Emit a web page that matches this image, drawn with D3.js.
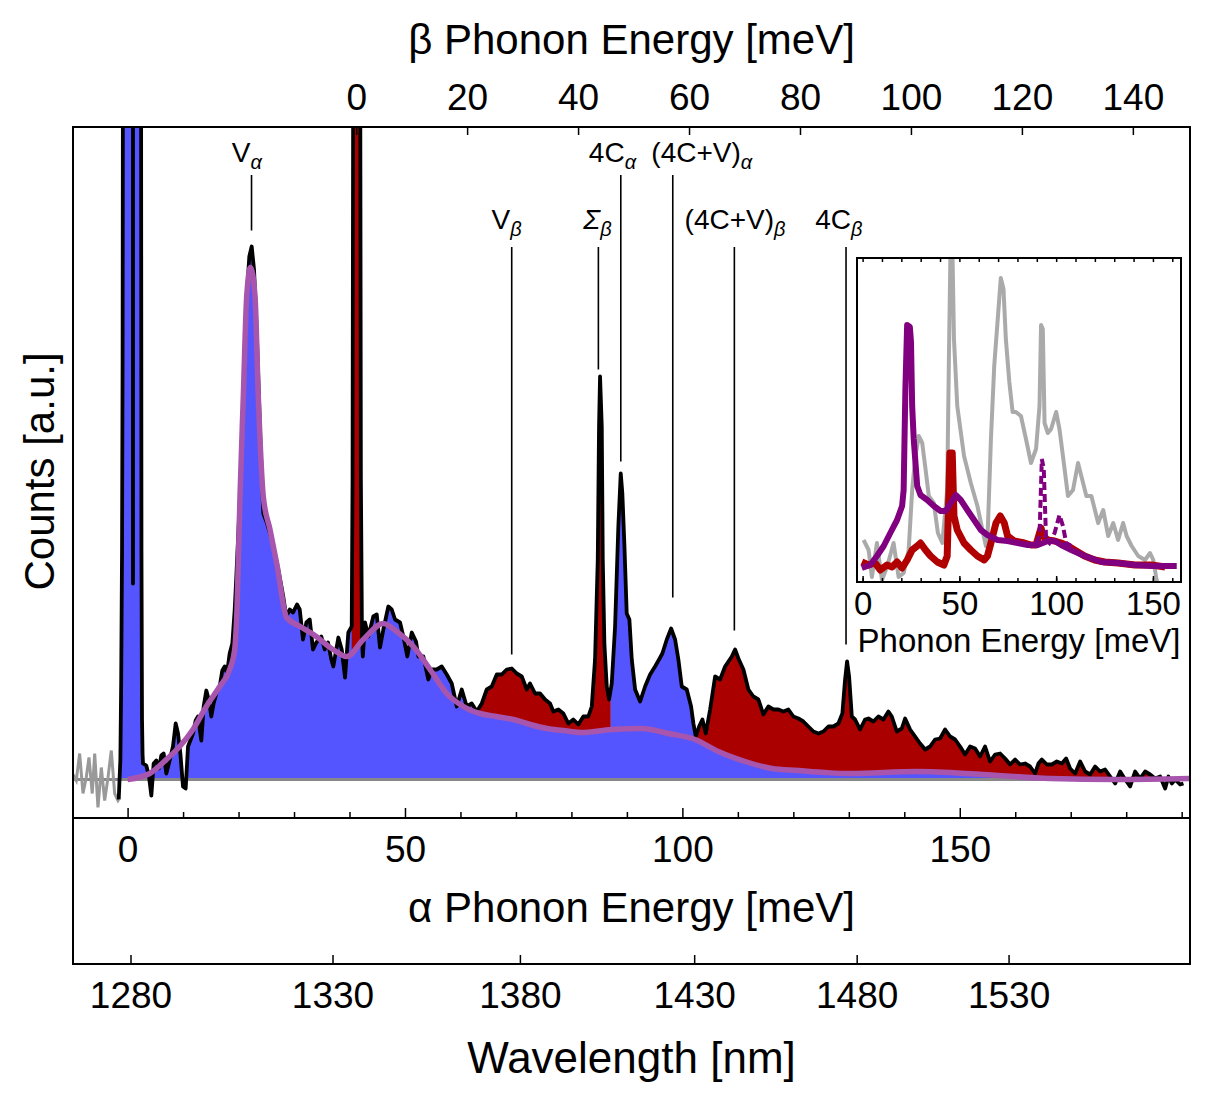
<!DOCTYPE html>
<html>
<head>
<meta charset="utf-8">
<script src="https://cdn.jsdelivr.net/npm/d3@7"></script>
<style>
  body { margin: 0; background: #fff; }
  text { font-family: "Liberation Sans", Arial, sans-serif; }
</style>
</head>
<body>
<div id="chart"></div>
<script>
// ---- data (alpha phonon energy in meV, counts in a.u.) ----
const greyNoise = [[-9.84,5],[-9.25,-1],[-8.64,26],[-8.04,-14],[-7.45,2],[-6.96,22],[-6.37,-14],[-5.93,26],
  [-5.34,-28],[-4.74,12],[-4.13,-21],[-3.53,2],[-2.94,29],[-2.33,-14],[-1.73,-21],[-1.6,-20]];

const spectrum = [[-1.6,-20],[-1.3,20],[-1.15,100],[-1.0,230],[-0.9,420],[-0.8,900],[-0.5,3000],[0.95,3000],
  [0.97,196],[0.99,3000],[2.2,3000],[2.4,900],[2.5,230],[2.6,60],[2.7,25],[2.78,16],[3.37,14],[3.86,3],[4.28,-16],
  [4.70,16],[5.18,19],[5.66,11],[6.08,24],[6.50,26],[6.98,6],[7.58,19],[8.18,33],[8.67,56],[9.09,46],[9.51,26],
  [9.99,-7],[10.47,-9],[10.89,33],[11.31,39],[11.79,46],[12.27,59],[12.69,63],[13.29,39],[13.71,73],[14.19,89],
  [14.67,79],[15.09,63],[15.51,76],[15.99,86],[16.60,93],[17.07,109],[17.50,113],[17.92,106],[18.40,126],
  [18.88,136],[19.30,169],[19.60,203],[20.26,283],[20.86,383],[21.47,483],[21.94,523],[22.37,533],[22.79,510],
  [23.27,450],[23.87,350],[24.46,266],[25.08,257],[25.98,240],[27.17,210],[28.0,185],[28.61,163],[29.22,170],
  [29.82,167],[30.54,175],[31.03,170],[31.62,140],[32.22,157],[32.83,160],[33.42,130],[34.02,137],[34.92,143],
  [35.53,130],[36.13,137],[36.72,120],[37.08,113],[37.99,142],[38.60,130],[39.19,102],[39.79,147],[40.4,153],
  [40.55,300],[40.75,1000],[41.0,3000],[41.6,3000],[41.85,1000],[42.05,300],[42.25,140],[42.4,123],[42.80,157],
  [43.39,143],[44.29,163],[44.91,165],[45.50,132],[46.10,150],[47.00,173],[47.61,170],[48.21,160],[49.11,157],
  [49.70,143],[50.42,123],[51.22,147],[51.99,138],[52.41,123],[53.31,123],[54.21,100],[54.82,110],[55.72,110],
  [56.63,113],[57.53,105],[58.43,96],[59.33,73],[60.23,90],[61.13,73],[62.03,76],[62.94,68],[63.84,76],
  [64.74,90],[65.64,93],[66.54,105],[67.44,105],[68.34,110],[69.25,111],[70.15,106],[71.05,103],[71.95,90],
  [72.54,96],[73.45,86],[74.35,86],[75.25,80],[76.15,76],[76.74,68],[77.65,70],[78.55,66],[79.45,56],[80.35,60],
  [81.25,55],[82.15,63],[83.05,63],[83.67,73],[84.26,120],[84.75,220],[84.98,353],[85.16,403],[85.47,353],
  [85.65,220],[85.94,136],[86.37,93],[86.79,80],[87.27,96],[87.87,153],[88.46,253],[88.89,306],[89.18,286],
  [89.54,236],[89.97,166],[90.45,160],[90.88,120],[91.48,90],[92.38,78],[93.28,93],[94.18,105],[95.08,113],
  [95.80,120],[96.39,126],[97.19,140],[97.97,151],[98.69,140],[99.28,120],[99.89,93],[100.79,90],[101.57,73],
  [101.99,56],[102.42,43],[103.01,53],[103.61,60],[104.22,46],[105.0,70],[105.90,103],[106.80,100],[107.70,113],
  [108.91,123],[109.50,130],[110.10,121],[111.0,110],[111.90,90],[112.80,83],[113.70,80],[114.60,65],[115.50,73],
  [116.41,70],[117.31,70],[118.21,68],[119.11,70],[120.01,63],[120.91,61],[121.81,58],[122.71,53],[123.62,48],
  [124.52,46],[125.42,48],[126.32,53],[127.22,53],[128.12,56],[128.84,66],[129.33,100],[129.69,118],[130.05,103],
  [130.54,63],[131.13,60],[132.03,50],[132.93,60],[133.53,61],[134.43,58],[135.33,63],[136.24,60],[137.14,68],
  [137.75,63],[138.65,48],[139.55,51],[140.15,61],[141.05,50],[141.95,43],[142.85,36],[143.75,30],[144.65,33],
  [145.55,40],[146.45,41],[147.36,50],[148.26,43],[149.16,40],[150.06,33],[150.96,25],[151.86,33],[152.76,31],
  [153.66,23],[154.56,33],[155.46,18],[156.37,25],[157.27,26],[158.17,21],[159.07,15],[159.97,20],[160.87,15],
  [161.77,16],[162.67,13],[163.57,6],[164.18,16],[164.79,20],[165.69,15],[166.59,15],[167.50,18],[168.40,16],
  [169.17,21],[169.89,11],[170.80,6],[171.70,18],[172.60,8],[173.50,5],[174.40,13],[175.30,8],[176.20,10],
  [177.11,3],[178.01,-4],[178.91,8],[179.81,0],[180.71,-7],[181.61,8],[182.51,1],[183.41,8],[184.31,5],
  [185.22,1],[186.12,3],[187.02,-9],[187.61,3],[188.22,-4],[188.82,0],[189.72,-5],[190.32,-4]];

const fitCurve = [[0,0],[3.98,6],[6.98,20],[9.39,33],[11.79,50],[14.19,73],[16.60,93],[18.40,110],[19.30,130],
  [19.72,170],[20.26,283],[20.86,383],[21.47,483],[22.16,512],[22.97,483],[23.56,383],[24.46,283],[25.67,250],
  [26.88,216],[28.68,162],[31.08,153],[33.5,145],[37.03,130],[39.50,123],[42.49,140],[46.10,156],[48.51,148],
  [51.51,133],[54.52,110],[57.53,86],[60.52,73],[63.53,66],[66.54,63],[69.53,60],[72.54,55],[75.55,51],
  [78.55,49],[81.55,47],[87.27,50],[92.68,51],[97.48,46],[102.29,40],[106.49,28],[111.30,18],[116.12,11],
  [120.91,9],[125.72,7],[130.23,6],[142.26,8],[154.26,5],[166.31,1],[178.31,0],[191.5,1]];

// which parts of the sideband belong to alpha (blue) and beta (red)
const alphaRegions = [[-1.6, 40.45], [42.3, 63.5], [87.0, 102.35]];
const betaRegions = [[40.45, 42.3], [63.5, 87.0], [102.35, 191.5]];

const peakLabels = [
  {main: "V", sub: "α", labelAt: 21.5, lineAt: 22.34, row: 0, tip: 549},
  {main: "V", sub: "β", labelAt: 68.3, lineAt: 69.24, row: 1, tip: 125},
  {main: "Σ", sub: "β", labelAt: 84.7, lineAt: 84.86, row: 1, tip: 410, italic: true},
  {main: "4C", sub: "α", labelAt: 87.4, lineAt: 88.9, row: 0, tip: 318},
  {main: "(4C+V)", sub: "α", labelAt: 103.5, lineAt: 98.27, row: 0, tip: 182},
  {main: "(4C+V)", sub: "β", labelAt: 109.5, lineAt: 109.37, row: 1, tip: 149},
  {main: "4C", sub: "β", labelAt: 128.2, lineAt: 129.5, row: 1, tip: 135}
];

const alphaTicks = [0, 50, 100, 150];
const betaTicks = [0, 20, 40, 60, 80, 100, 120, 140];
const wavelengthTicks = [1280, 1330, 1380, 1430, 1480, 1530];
const betaOffset = 41.2;          // beta ZPL position on the alpha energy axis
const alphaZpl = 969.15;          // meV, alpha zero phonon line photon energy

// inset (phonon energy in meV, counts in a.u.)
const insetGrey = [[0.5,42],[3.1,32],[4.8,5],[7.4,39],[10.0,2],[12.6,15],[16.0,39],[18.6,5],[21.2,9],[23.8,32],
  [25.6,92],[27.3,126],[29.0,146],[30.8,139],[32.5,113],[34.2,86],[36.8,79],[38.9,49],[41.2,39],[43.7,92],
  [44.6,226],[45.5,344],[46.3,344],[47.2,243],[48.9,176],[52.4,126],[55.9,99],[59.3,76],[61.9,52],[63.7,36],
  [64.5,42],[66.3,143],[68.0,216],[69.7,260],[71.4,304],[72.8,293],[74.0,243],[75.8,200],[77.5,170],[79.2,170],
  [81.8,166],[84.4,143],[87.0,119],[89.6,133],[91.4,176],[92.2,257],[93.1,253],[94.0,159],[95.7,149],[97.4,153],
  [100.0,170],[101.7,153],[103.5,126],[106.1,86],[108.7,92],[111.3,119],[113.0,106],[115.6,86],[118.2,86],
  [121.7,59],[124.3,72],[126.9,46],[129.5,59],[132.0,42],[134.6,59],[136.4,46],[139.0,36],[142.4,26],[145.9,22],
  [148.5,29],[150.2,22],[151.9,2],[153.7,-8]];
const insetRed = [[-0.4,20],[3.1,17],[6.5,19],[9.1,12],[12.6,17],[15.2,15],[17.8,20],[20.4,14],[23.0,22],
  [25.6,32],[28.2,36],[29.9,39],[32.5,32],[35.1,26],[38.6,20],[42.0,17],[43.7,26],[44.6,92],[45.1,129],[46.3,129],
  [47.2,66],[48.9,52],[52.4,39],[55.9,32],[59.3,26],[62.8,22],[64.5,26],[66.3,39],[68.9,59],[71.1,66],[73.2,59],
  [74.9,46],[78.4,41],[83.6,39],[87.0,37],[89.6,37],[91.4,49],[92.2,54],[93.1,46],[95.7,42],[99.2,41],[102.6,39],
  [106.1,36],[109.5,32],[114.7,26],[119.9,22],[125.1,20],[132.0,19],[140.7,17],[149.4,17],[156.3,15]];
const insetPurple = [[-0.4,14],[3.9,17],[7.4,26],[10.9,36],[14.3,49],[17.8,62],[20.4,76],[21.2,92],[22.1,193],
  [23.0,257],[24.4,255],[25.0,240],[25.6,176],[26.4,143],[28.2,96],[29.9,87],[33.4,82],[36.8,76],[40.3,71],
  [42.9,71],[45.5,79],[48.1,87],[50.7,82],[54.1,72],[57.6,62],[61.1,52],[64.5,47],[69.7,42],[74.9,41],[80.1,39],
  [85.3,37],[90.5,37],[95.7,41],[99.2,41],[102.6,37],[107.8,32],[114.7,26],[123.4,20],[132.0,19],[140.7,17],
  [149.4,16],[162.3,16]];
const insetPurpleDashed = [[89.6,39],[91.4,46],[92.6,123],[93.6,113],[94.8,42],[96.5,39],[99.2,49],[101.7,67],
  [103.5,56],[105.2,39],[107.8,36]];
const insetTicks = [0, 50, 100, 150];

// ---- layout ----
const svgWidth = 1209;
const svgHeight = 1093;
const plot = {left: 73, right: 1190, top: 127, bottom: 818};
const lowerBottom = 964;
const labelRows = [{baseline: 162, lineTop: 175}, {baseline: 229, lineTop: 247}];
const font = '"Liberation Sans", Arial, sans-serif';

const svg = d3.select("#chart")
  .append("svg")
  .attr("width", svgWidth)
  .attr("height", svgHeight);

const x = d3.scaleLinear().domain([-9.84, 191.5]).range([plot.left, plot.right]);
const y = d3.scaleLinear().domain([-38.5, 652.5]).range([plot.bottom, plot.top]);
const xBeta = d3.scaleLinear().domain(x.domain().map(d => d - betaOffset)).range(x.range());
// wavelength axis: piecewise linear scale through the energy conversion
const wlSamples = d3.range(1260, 1605, 2);
const xWave = d3.scaleLinear()
  .domain(wlSamples)
  .range(wlSamples.map(w => x(alphaZpl - 1239841.98 / w)));

svg.append("clipPath").attr("id", "plotClip")
  .append("rect")
  .attr("x", plot.left).attr("y", plot.top)
  .attr("width", plot.right - plot.left).attr("height", plot.bottom - plot.top);

const main = svg.append("g").attr("clip-path", "url(#plotClip)");

// linear interpolation of a series at energy e
function valueAt(series, e) {
  const i = d3.bisector(d => d[0]).left(series, e);
  if (i <= 0) return series[0][1];
  if (i >= series.length) return series[series.length - 1][1];
  const p = series[i - 1], q = series[i];
  return p[1] + (q[1] - p[1]) * (e - p[0]) / (q[0] - p[0]);
}

function regionPoints(r) {
  const es = [r[0]].concat(spectrum.map(d => d[0]).filter(e => e > r[0] && e < r[1]), [r[1]]);
  return es.map(e => ({e: e, s: valueAt(spectrum, e), f: valueAt(fitCurve, e)}));
}

const area = d3.area().x(d => x(d.e));
const blue = "#5555ff";
const red = "#aa0000";

// blue: one path, data height in the alpha parts and fit height in the beta parts
const regions = alphaRegions.map(r => ({r: r, alpha: true}))
  .concat(betaRegions.map(r => ({r: r, alpha: false})))
  .sort((a, b) => a.r[0] - b.r[0]);
const bluePoints = [];
regions.forEach(reg => {
  regionPoints(reg.r).forEach(d => {
    bluePoints.push({e: d.e, top: reg.alpha ? Math.max(d.s, 0) : d.f});
  });
});
main.append("path")
  .datum(bluePoints)
  .attr("fill", blue)
  .attr("d", d3.area().x(d => x(d.e)).y0(y(0)).y1(d => y(d.top)));

// red: beta sideband above the fit
betaRegions.forEach(r => {
  main.append("path")
    .datum(regionPoints(r))
    .attr("fill", red).attr("stroke", red).attr("stroke-width", 0.6)
    .attr("d", area.y0(d => y(d.f)).y1(d => y(Math.max(d.s, d.f))));
});

// baseline
main.append("line")
  .attr("x1", plot.left).attr("x2", plot.right)
  .attr("y1", y(0)).attr("y2", y(0))
  .attr("stroke", "#888").attr("stroke-width", 3);

const line = d3.line().x(d => x(d[0])).y(d => y(d[1]));

main.append("path")
  .datum(greyNoise)
  .attr("fill", "none")
  .attr("stroke", "#999")
  .attr("stroke-width", 3)
  .attr("d", line);

main.append("path")
  .datum(spectrum)
  .attr("fill", "none")
  .attr("stroke", "#000")
  .attr("stroke-width", 3.8)
  .attr("stroke-linejoin", "round")
  .attr("d", line);

main.append("path")
  .datum(fitCurve)
  .attr("fill", "none")
  .attr("stroke", "#a855ad")
  .attr("stroke-width", 5.5)
  .attr("stroke-linejoin", "round")
  .attr("d", line.curve(d3.curveMonotoneX));

// peak labels
const labels = svg.append("g");
peakLabels.forEach(p => {
  const row = labelRows[p.row];
  labels.append("line")
    .attr("x1", x(p.lineAt)).attr("x2", x(p.lineAt))
    .attr("y1", row.lineTop).attr("y2", y(p.tip))
    .attr("stroke", "#000").attr("stroke-width", 1.6);
  const t = labels.append("text")
    .attr("x", x(p.labelAt)).attr("y", row.baseline)
    .attr("text-anchor", "middle")
    .attr("font-size", 28);
  t.append("tspan").attr("font-style", p.italic ? "italic" : "normal").text(p.main);
  t.append("tspan").attr("font-size", 20).attr("font-style", "italic").attr("dy", 7).text(p.sub);
});

// ---- axes ----
function styleAxis(g, size) {
  g.select(".domain").remove();
  g.selectAll("line").attr("stroke", "#000").attr("stroke-width", 1.5);
  g.selectAll("text").attr("font-family", font).attr("font-size", size).attr("fill", "#000");
}

svg.append("g")
  .attr("transform", `translate(0,${plot.bottom})`)
  .call(d3.axisBottom(x).tickValues(d3.range(10, 191, 10).filter(d => d % 50 !== 0)).tickSizeInner(-6).tickSizeOuter(0).tickFormat(""))
  .call(g => styleAxis(g, 37));
svg.append("g")
  .attr("transform", `translate(0,${plot.bottom})`)
  .call(d3.axisBottom(x).tickValues(alphaTicks).tickSizeInner(-10).tickSizeOuter(0).tickPadding(18))
  .call(g => styleAxis(g, 37));

svg.append("g")
  .attr("transform", `translate(0,${plot.top})`)
  .call(d3.axisTop(xBeta).tickValues(betaTicks).tickSizeInner(-8).tickSizeOuter(0).tickPadding(17))
  .call(g => styleAxis(g, 37));

svg.append("g")
  .attr("transform", `translate(0,${lowerBottom})`)
  .call(d3.axisBottom(xWave).tickValues(wavelengthTicks).tickFormat(d3.format("d"))
    .tickSizeInner(-9).tickSizeOuter(0).tickPadding(18))
  .call(g => styleAxis(g, 37));

// frames
svg.append("rect")
  .attr("x", plot.left).attr("y", plot.top)
  .attr("width", plot.right - plot.left).attr("height", plot.bottom - plot.top)
  .attr("fill", "none").attr("stroke", "#000").attr("stroke-width", 2);
svg.append("path")
  .attr("d", `M${plot.left},${plot.bottom}V${lowerBottom}H${plot.right}V${plot.bottom}`)
  .attr("fill", "none").attr("stroke", "#000").attr("stroke-width", 2);

// axis titles
const cx = (plot.left + plot.right) / 2;
svg.append("text").attr("x", cx).attr("y", 54).attr("text-anchor", "middle")
  .attr("font-size", 42).text("β Phonon Energy [meV]");
svg.append("text").attr("x", cx).attr("y", 922).attr("text-anchor", "middle")
  .attr("font-size", 42).text("α Phonon Energy [meV]");
svg.append("text").attr("x", cx).attr("y", 1073).attr("text-anchor", "middle")
  .attr("font-size", 44).text("Wavelength [nm]");
svg.append("text")
  .attr("transform", `translate(54,${(plot.top + plot.bottom) / 2 - 1}) rotate(-90)`)
  .attr("text-anchor", "middle")
  .attr("font-size", 42).text("Counts [a.u.]");

// ---- inset ----
const inset = {left: 857, right: 1181, top: 258, bottom: 582};
const ix = d3.scaleLinear().domain([-2.9, 164.5]).range([inset.left, inset.right]);
const iy = d3.scaleLinear().domain([0, 324]).range([inset.bottom, inset.top]);

svg.append("rect")
  .attr("x", inset.left).attr("y", inset.top)
  .attr("width", inset.right - inset.left).attr("height", inset.bottom - inset.top)
  .attr("fill", "#fff");

svg.append("clipPath").attr("id", "insetClip")
  .append("rect")
  .attr("x", inset.left).attr("y", inset.top)
  .attr("width", inset.right - inset.left).attr("height", inset.bottom - inset.top);

const insetG = svg.append("g").attr("clip-path", "url(#insetClip)");
const iline = d3.line().x(d => ix(d[0])).y(d => iy(d[1]));

insetG.append("path").datum(insetGrey)
  .attr("fill", "none").attr("stroke", "#aaa").attr("stroke-width", 4)
  .attr("stroke-linejoin", "round").attr("d", iline);
insetG.append("path").datum(insetRed)
  .attr("fill", "none").attr("stroke", "#b00000").attr("stroke-width", 7)
  .attr("stroke-linejoin", "round").attr("d", iline);
insetG.append("path").datum(insetPurpleDashed)
  .attr("fill", "none").attr("stroke", "#800080").attr("stroke-width", 4)
  .attr("stroke-dasharray", "8,4").attr("d", iline);
insetG.append("path").datum(insetPurple)
  .attr("fill", "none").attr("stroke", "#800080").attr("stroke-width", 6)
  .attr("stroke-linejoin", "round").attr("d", iline);

svg.append("g")
  .attr("transform", `translate(0,${inset.bottom})`)
  .call(d3.axisBottom(ix).tickValues(d3.range(0, 161, 10)).tickSizeInner(-4).tickSizeOuter(0).tickFormat(""))
  .call(g => styleAxis(g, 33));
svg.append("g")
  .attr("transform", `translate(0,${inset.top})`)
  .call(d3.axisTop(ix).tickValues(d3.range(0, 161, 10)).tickSizeInner(-4).tickSizeOuter(0).tickFormat(""))
  .call(g => styleAxis(g, 33));
svg.append("g")
  .attr("transform", `translate(0,${inset.bottom})`)
  .call(d3.axisBottom(ix).tickValues(insetTicks).tickSizeInner(-6).tickSizeOuter(0).tickPadding(10))
  .call(g => styleAxis(g, 33));

svg.append("rect")
  .attr("x", inset.left).attr("y", inset.top)
  .attr("width", inset.right - inset.left).attr("height", inset.bottom - inset.top)
  .attr("fill", "none").attr("stroke", "#000").attr("stroke-width", 2);

svg.append("text").attr("x", (inset.left + inset.right) / 2).attr("y", 652)
  .attr("text-anchor", "middle").attr("font-size", 33).text("Phonon Energy [meV]");
</script>
</body>
</html>
